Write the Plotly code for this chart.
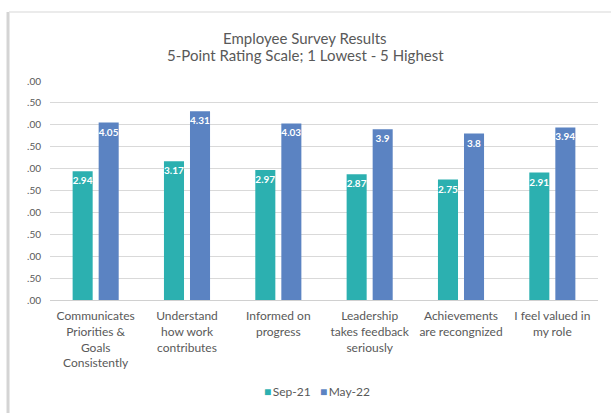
import plotly.graph_objects as go

categories = [
    "Communicates<br>Priorities &<br>Goals<br>Consistently",
    "Understand<br>how work<br>contributes",
    "Informed on<br>progress",
    "Leadership<br>takes feedback<br>seriously",
    "Achievements<br>are recongnized",
    "I feel valued in<br>my role",
]
series_names = ["Sep-21", "May-22"]
sep21 = [2.94, 3.17, 2.97, 2.87, 2.75, 2.91]
may22 = [4.05, 4.31, 4.03, 3.9, 3.8, 3.94]
sep21_labels = ["2.94", "3.17", "2.97", "2.87", "2.75", "2.91"]
may22_labels = ["4.05", "4.31", "4.03", "3.9", "3.8", "3.94"]
ytick_vals = [0, 0.5, 1, 1.5, 2, 2.5, 3, 3.5, 4, 4.5, 5]
ytick_text = [".00", ".50", ".00", ".50", ".00", ".50", ".00", ".50", ".00", ".50", ".00"]
title_lines = ["Employee Survey Results", "5-Point Rating Scale; 1 Lowest - 5 Highest"]

FONT = "Lato, Carlito, Calibri, sans-serif"
GREY = "#595959"
COLORS = ["#2CB0B0", "#5B83C2"]

fig = go.Figure()
for name, vals, labels, col in zip(series_names, [sep21, may22], [sep21_labels, may22_labels], COLORS):
    fig.add_trace(go.Bar(
        name=name, x=categories, y=vals, text=labels,
        marker=dict(color=col, line=dict(width=0)),
        textposition="inside", insidetextanchor="end", textangle=0,
        textfont=dict(color="white", size=10, family=FONT, weight="bold"),
        showlegend=False, hoverinfo="skip",
    ))

fig.update_layout(
    width=611, height=413,
    margin=dict(l=50, r=13, t=81, b=113, autoexpand=False),
    paper_bgcolor="white", plot_bgcolor="white",
    font=dict(family=FONT, color=GREY),
    barmode="group", bargap=0.43, bargroupgap=0.23,
    uniformtext=dict(minsize=10, mode="show"),
    showlegend=False,
)
fig.update_yaxes(
    range=[0, 5], tickvals=ytick_vals, ticktext=ytick_text,
    showgrid=True, gridcolor="#d9d9d9", gridwidth=1,
    zeroline=False, showline=False, ticks="",
    tickfont=dict(size=10, color=GREY, family=FONT),
    ticklabelstandoff=8, automargin=False,
)
fig.update_xaxes(
    showline=True, linecolor="#d0d0d0", linewidth=1,
    ticks="", tickfont=dict(size=12, color=GREY, family=FONT),
    tickangle=0, automargin=False, ticklabelstandoff=5,
)

# title (two lines)
fig.add_annotation(text=title_lines[0], xref="paper", yref="paper", x=0.466, y=1.196,
                   showarrow=False, xanchor="center", yanchor="middle",
                   font=dict(size=15, color=GREY, family=FONT))
fig.add_annotation(text=title_lines[1], xref="paper", yref="paper", x=0.466, y=1.119,
                   showarrow=False, xanchor="center", yanchor="middle",
                   font=dict(size=15, color=GREY, family=FONT))

# legend (compact, Excel-like)
legend_text = "&nbsp;&nbsp;&nbsp;".join(
    f"<span style='color:{c}'>■</span>&#8201;{n}" for n, c in zip(series_names, COLORS)
)
fig.add_annotation(text=legend_text, xref="paper", yref="paper", x=0.487, y=-0.42,
                   showarrow=False, xanchor="center", yanchor="middle",
                   font=dict(size=12, color=GREY, family=FONT))

# frame of the cropped chart box
fig.add_shape(type="line", xref="paper", yref="paper",
              x0=-0.0766, x1=-0.0766, y0=1.315, y1=-0.52,
              line=dict(color="#d4d4d4", width=3))
fig.add_shape(type="line", xref="paper", yref="paper",
              x0=-0.0748, x1=1.03, y0=1.315, y1=1.315,
              line=dict(color="#e4e4e4", width=1.5))

fig.write_html("out.html", config={"displayModeBar": False},
               post_script="document.body.style.margin='0';")
